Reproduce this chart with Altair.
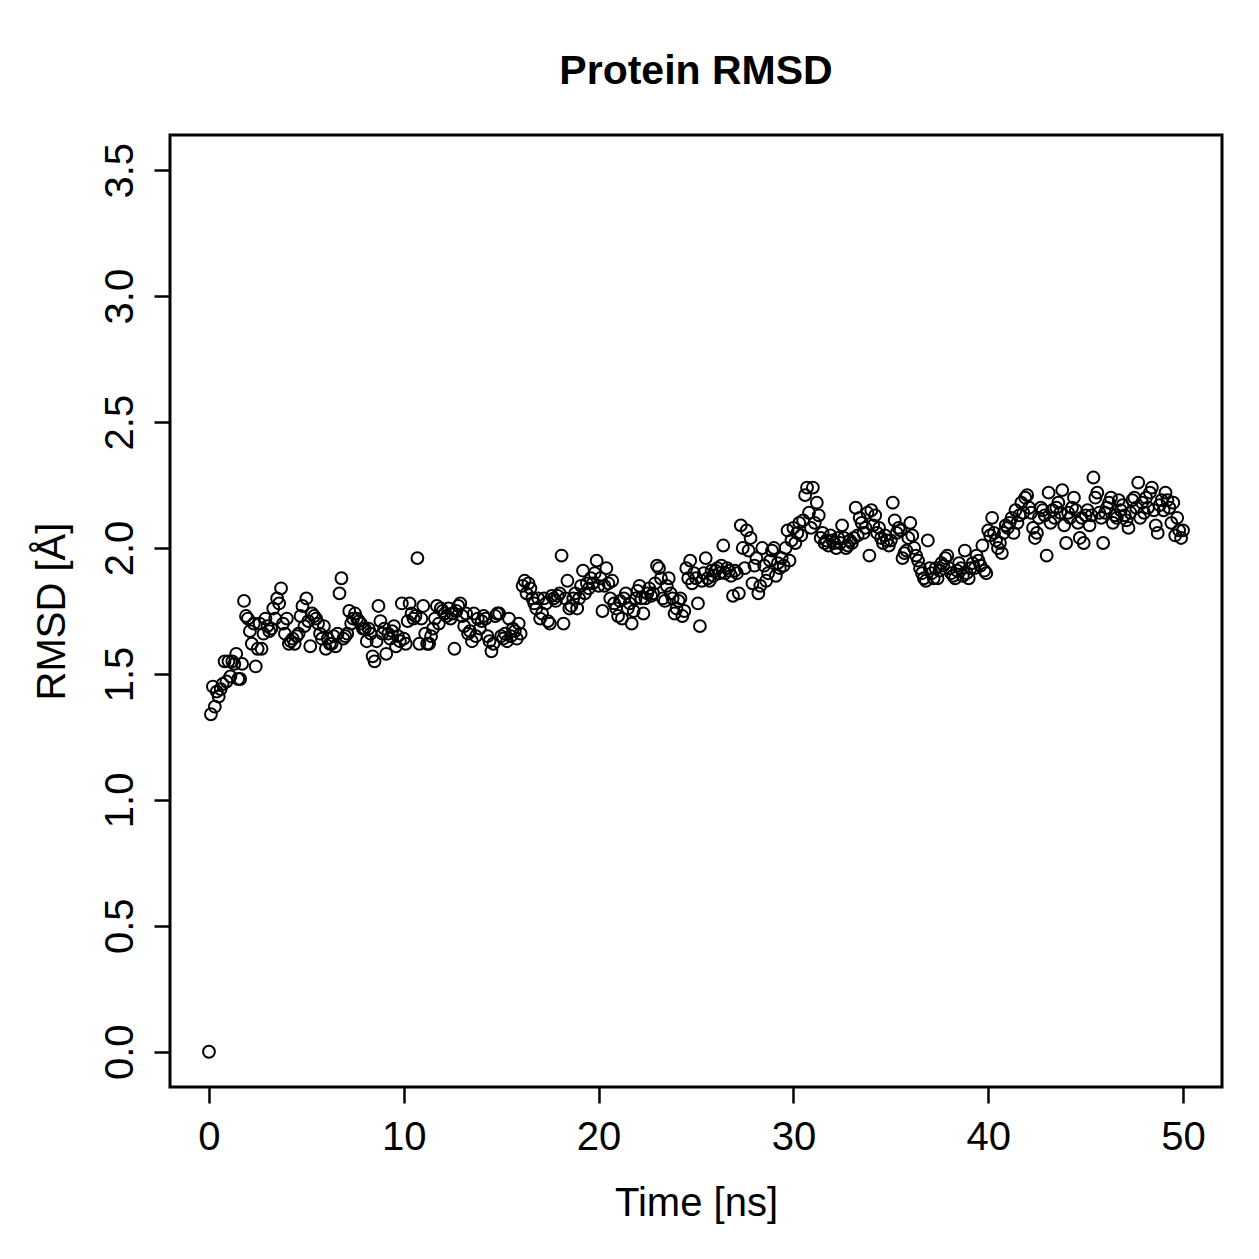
import altair as alt
import numpy as np
import pandas as pd

# Sampling: one frame every 0.1 ns over a 50 ns trajectory
time_ns = np.round(np.arange(0, 501) * 0.1, 1)

# Backbone RMSD (Angstrom) per frame, one row per nanosecond
rmsd = [
    0.00, 1.34, 1.45, 1.37, 1.43, 1.41, 1.44, 1.46, 1.55, 1.47,
    1.55, 1.49, 1.55, 1.54, 1.58, 1.48, 1.48, 1.54, 1.79, 1.73,
    1.72, 1.67, 1.62, 1.70, 1.53, 1.60, 1.70, 1.60, 1.66, 1.72,
    1.69, 1.67, 1.68, 1.76, 1.72, 1.80, 1.78, 1.84, 1.70, 1.66,
    1.72, 1.62, 1.63, 1.64, 1.62, 1.65, 1.66, 1.73, 1.77, 1.69,
    1.80, 1.71, 1.61, 1.74, 1.73, 1.72, 1.70, 1.66, 1.64, 1.69,
    1.60, 1.64, 1.62, 1.62, 1.65, 1.61, 1.66, 1.82, 1.88, 1.64,
    1.65, 1.66, 1.75, 1.70, 1.72, 1.74, 1.72, 1.71, 1.70, 1.68,
    1.68, 1.63, 1.68, 1.66, 1.57, 1.55, 1.63, 1.77, 1.71, 1.66,
    1.68, 1.58, 1.66, 1.64, 1.67, 1.69, 1.61, 1.65, 1.63, 1.78,
    1.64, 1.62, 1.71, 1.78, 1.74, 1.72, 1.73, 1.96, 1.62, 1.72,
    1.77, 1.66, 1.62, 1.62, 1.65, 1.68, 1.72, 1.77, 1.70, 1.76,
    1.75, 1.74, 1.73, 1.76, 1.72, 1.74, 1.60, 1.75, 1.77, 1.78,
    1.73, 1.69, 1.74, 1.66, 1.67, 1.63, 1.74, 1.65, 1.72, 1.68,
    1.71, 1.73, 1.72, 1.65, 1.63, 1.59, 1.62, 1.73, 1.74, 1.74,
    1.65, 1.64, 1.66, 1.63, 1.72, 1.65, 1.68, 1.67, 1.64, 1.70,
    1.66, 1.85, 1.87, 1.82, 1.86, 1.84, 1.80, 1.78, 1.76, 1.80,
    1.72, 1.74, 1.80, 1.78, 1.71, 1.70, 1.81, 1.80, 1.79, 1.81,
    1.82, 1.97, 1.70, 1.80, 1.87, 1.76, 1.77, 1.80, 1.82, 1.76,
    1.80, 1.85, 1.91, 1.82, 1.86, 1.84, 1.88, 1.86, 1.90, 1.95,
    1.85, 1.88, 1.75, 1.85, 1.92, 1.86, 1.80, 1.87, 1.78, 1.76,
    1.73, 1.79, 1.72, 1.80, 1.82, 1.76, 1.78, 1.70, 1.75, 1.80,
    1.83, 1.85, 1.80, 1.74, 1.80, 1.82, 1.84, 1.81, 1.82, 1.86,
    1.93, 1.92, 1.88, 1.80, 1.79, 1.85, 1.88, 1.82, 1.80, 1.74,
    1.76, 1.79, 1.80, 1.73, 1.75, 1.92, 1.88, 1.95, 1.86, 1.90,
    1.88, 1.78, 1.69, 1.87, 1.90, 1.96, 1.88, 1.87, 1.91, 1.89,
    1.91, 1.92, 1.90, 1.93, 2.01, 1.90, 1.92, 1.91, 1.89, 1.81,
    1.91, 1.90, 1.82, 2.09, 2.00, 1.92, 2.07, 1.99, 2.04, 1.86,
    1.93, 1.96, 1.82, 1.85, 2.00, 1.93, 1.87, 1.90, 1.95, 1.99,
    2.00, 1.89, 1.94, 1.92, 1.96, 1.93, 2.00, 2.07, 1.95, 2.03,
    2.08, 2.02, 2.06, 2.10, 2.05, 2.11, 2.21, 2.24, 2.14, 2.08,
    2.24, 2.10, 2.18, 2.13, 2.04, 2.06, 2.02, 2.03, 2.01, 2.05,
    2.03, 2.02, 2.00, 2.04, 2.02, 2.09, 2.04, 2.00, 2.01, 2.03,
    2.02, 2.04, 2.16, 2.05, 2.12, 2.10, 2.06, 2.08, 2.14, 1.97,
    2.15, 2.09, 2.13, 2.06, 2.08, 2.04, 2.02, 2.05, 2.03, 2.01,
    2.03, 2.18, 2.11, 2.06, 2.08, 2.07, 1.96, 1.98, 1.99, 2.04,
    2.10, 2.05, 2.00, 1.97, 1.95, 1.92, 1.90, 1.88, 1.87, 2.03,
    1.92, 1.90, 1.88, 1.92, 1.88, 1.91, 1.94, 1.93, 1.96, 1.97,
    1.92, 1.90, 1.89, 1.88, 1.91, 1.94, 1.92, 1.89, 1.99, 1.90,
    1.88, 1.92, 1.94, 1.92, 1.97, 1.95, 1.93, 2.01, 1.91, 1.90,
    2.07, 2.05, 2.12, 2.06, 2.03, 2.00, 2.02, 1.98, 2.06, 2.09,
    2.08, 2.10, 2.12, 2.06, 2.15, 2.10, 2.13, 2.18, 2.14, 2.20,
    2.21, 2.16, 2.14, 2.08, 2.04, 2.06, 2.12, 2.16, 2.15, 2.13,
    1.97, 2.22, 2.10, 2.15, 2.12, 2.16, 2.18, 2.14, 2.23, 2.09,
    2.02, 2.14, 2.12, 2.16, 2.20, 2.15, 2.10, 2.04, 2.12, 2.02,
    2.13, 2.15, 2.09, 2.13, 2.28, 2.20, 2.22, 2.14, 2.12, 2.02,
    2.14, 2.16, 2.18, 2.20, 2.10, 2.13, 2.12, 2.19, 2.15, 2.17,
    2.13, 2.11, 2.08, 2.14, 2.19, 2.20, 2.16, 2.26, 2.12, 2.18,
    2.14, 2.20, 2.16, 2.22, 2.24, 2.15, 2.09, 2.06, 2.17, 2.19,
    2.15, 2.22, 2.19, 2.16, 2.10, 2.18, 2.05, 2.12, 2.07, 2.04,
    2.07,
]

x_ticks = [0, 10, 20, 30, 40, 50]
y_ticks = [0.0, 0.5, 1.0, 1.5, 2.0, 2.5, 3.0, 3.5]

df = pd.DataFrame({"time": time_ns, "rmsd": rmsd})

FONT = "Liberation Sans"

points = alt.Chart(df).mark_point(
    shape="circle", filled=False, color="black", size=140, strokeWidth=2, opacity=1
).encode(
    x=alt.X(
        "time:Q",
        scale=alt.Scale(domain=[-2, 52], nice=False, zero=False),
        axis=alt.Axis(
            values=x_ticks, title="Time [ns]", format="d",
            domain=False, grid=False, tickColor="black", tickWidth=2.5, tickSize=16,
            labelFont=FONT, labelFontSize=40, labelColor="black",
            labelBaseline="alphabetic", labelPadding=46, labelFlush=False,
            titleFont=FONT, titleFontSize=40, titleFontWeight="normal", titleColor="black",
            titleBaseline="alphabetic", titleY=128,
        ),
    ),
    y=alt.Y(
        "rmsd:Q",
        scale=alt.Scale(domain=[-0.14, 3.64], nice=False, zero=False),
        axis=alt.Axis(
            values=y_ticks, title="RMSD [Å]", format=".1f",
            domain=False, grid=False, tickColor="black", tickWidth=2.5, tickSize=16,
            labelFont=FONT, labelFontSize=40, labelColor="black", labelAngle=-90,
            labelAlign="center", labelBaseline="alphabetic", labelPadding=22, labelFlush=False,
            titleFont=FONT, titleFontSize=40, titleFontWeight="normal", titleColor="black",
            titleAngle=-90, titleBaseline="alphabetic", titleX=-106,
        ),
    ),
)

chart = points.properties(
    width=1052,
    height=952,
    title=alt.TitleParams(
        "Protein RMSD", font=FONT, fontSize=41, fontWeight="bold", color="black",
        anchor="middle", frame="group", baseline="alphabetic", offset=10,
    ),
    autosize=alt.AutoSizeParams(type="none"),
    padding={"left": 170, "top": 135, "right": 37, "bottom": 172},
    background="white",
).configure_view(stroke="black", strokeWidth=3, fill="white")

chart.save("out.html", embed_options={"renderer": "svg", "actions": False})
